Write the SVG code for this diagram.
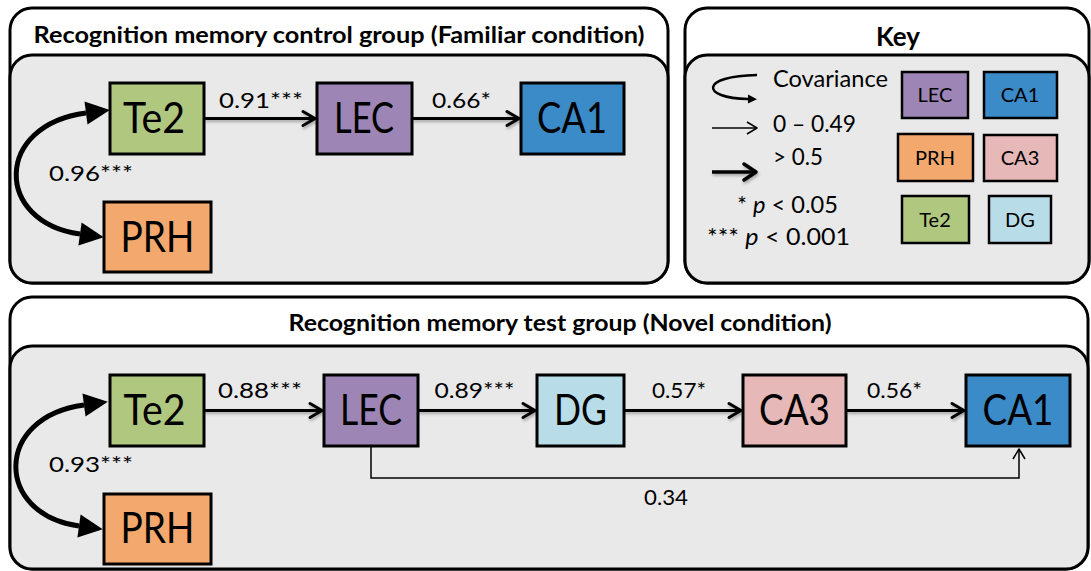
<svg xmlns="http://www.w3.org/2000/svg" width="1091" height="571" viewBox="0 0 1091 571">
  <style>
    text { font-family: Lato, "Liberation Sans", Arial, sans-serif; fill: #000; }
    .title { font-size: 22px; font-weight: bold; text-anchor: middle; }
    .outer { fill: #fff; stroke: #000; stroke-width: 3; }
    .inner { fill: #e9e9e9; stroke: #000; stroke-width: 3; }
    .node rect { stroke: #000; stroke-width: 3; }
    .node text { font-size: 42px; text-anchor: middle; }
    .knode rect { stroke: #000; stroke-width: 2.5; }
    .knode text { font-size: 20px; text-anchor: middle; }
    .lbl { font-size: 21px; }
    .klbl { font-size: 23px; }
    .te2 { fill: #b0c77f; }
    .lec { fill: #9d86b5; }
    .ca1 { fill: #3b8bc9; }
    .prh { fill: #f3a96e; }
    .ca3 { fill: #e6b8b7; }
    .dg  { fill: #b8dde8; }
    .path { fill: none; stroke: #000; stroke-width: 3; marker-end: url(#chev); }
    .thin { fill: none; stroke: #000; stroke-width: 1.5; marker-end: url(#chevThin); }
    .cov { fill: none; stroke: #000; stroke-width: 5; marker-start: url(#tri); marker-end: url(#tri); }
  </style>
  <defs>
    <marker id="chev" markerUnits="userSpaceOnUse" viewBox="-3 -3 18 20" markerWidth="18" markerHeight="20" refX="12" refY="7" orient="auto" overflow="visible">
      <path d="M0 0 L12 7 L0 14" fill="none" stroke="#000" stroke-width="3" stroke-linejoin="round" stroke-linecap="round"/>
    </marker>
    <marker id="chevBold" markerUnits="userSpaceOnUse" viewBox="-3 -3 18 22" markerWidth="18" markerHeight="22" refX="12" refY="8" orient="auto" overflow="visible">
      <path d="M0 0 L12 8 L0 16" fill="none" stroke="#000" stroke-width="3.5" stroke-linejoin="round" stroke-linecap="round"/>
    </marker>
    <marker id="chevThin" markerUnits="userSpaceOnUse" viewBox="-2 -2 14 16" markerWidth="14" markerHeight="16" refX="10" refY="6" orient="auto" overflow="visible">
      <path d="M0 0 L10 6 L0 12" fill="none" stroke="#000" stroke-width="1.5" stroke-linejoin="round"/>
    </marker>
    <marker id="tri" markerUnits="userSpaceOnUse" viewBox="0 0 24 23" markerWidth="24" markerHeight="23" refX="0" refY="11.5" orient="auto-start-reverse" overflow="visible">
      <path d="M0 0 L24 11.5 L0 23 Z" fill="#000"/>
    </marker>
    <marker id="triSmall" markerUnits="userSpaceOnUse" viewBox="0 0 9 9" markerWidth="9" markerHeight="9" refX="0" refY="4.5" orient="auto" overflow="visible">
      <path d="M0 0 L9 4.5 L0 9 Z" fill="#000"/>
    </marker>
    <!-- soft drop shadow under the path arrows; user-space region so flat lines still render -->
    <filter id="shadow" filterUnits="userSpaceOnUse" x="0" y="0" width="1091" height="571">
      <feDropShadow dx="1" dy="2" stdDeviation="1.6" flood-color="#000" flood-opacity="0.3"/>
    </filter>
  </defs>

  <!-- Panel frames -->
  <g id="panel-familiar">
    <rect class="outer" x="10" y="8" width="658" height="275" rx="22"/>
    <rect class="inner" x="10" y="55" width="658" height="228" rx="22"/>
    <text class="title" x="339" y="43" textLength="611" lengthAdjust="spacingAndGlyphs">Recognition memory control group (Familiar condition)</text>
  </g>
  <g id="panel-key">
    <rect class="outer" x="685" y="8" width="404" height="275" rx="22"/>
    <rect class="inner" x="685" y="55" width="404" height="228" rx="22"/>
    <text class="title" x="898" y="46" style="font-size:26px" textLength="44" lengthAdjust="spacingAndGlyphs">Key</text>
  </g>
  <g id="panel-novel">
    <rect class="outer" x="10" y="297" width="1078" height="272" rx="22"/>
    <rect class="inner" x="10" y="346" width="1078" height="223" rx="22"/>
    <text class="title" x="560" y="331" textLength="543" lengthAdjust="spacingAndGlyphs">Recognition memory test group (Novel condition)</text>
  </g>

  <!-- Connectors -->
  <g id="connectors">
    <g filter="url(#shadow)">
      <path class="path" d="M204 118.5 H315"/>
      <path class="path" d="M412 118.5 H519"/>
      <path class="path" d="M204 410.5 H322"/>
      <path class="path" d="M418 410.5 H535"/>
      <path class="path" d="M624 410.5 H741"/>
      <path class="path" d="M846 410.5 H964"/>
    </g>
    <path class="thin" d="M371 446 V478 H1019 V449"/>
    <path class="cov" d="M86 113 C-6 125, -6 222, 80 234"/>
    <path class="cov" d="M84 405 C-6 417, -6 514, 79 526"/>
    <text class="lbl" x="261" y="108" text-anchor="middle" textLength="84" lengthAdjust="spacingAndGlyphs">0.91***</text>
    <text class="lbl" x="461.5" y="108" text-anchor="middle" textLength="59" lengthAdjust="spacingAndGlyphs">0.66*</text>
    <text class="lbl" x="91" y="181" text-anchor="middle" textLength="84" lengthAdjust="spacingAndGlyphs">0.96***</text>
    <text class="lbl" x="260" y="398" text-anchor="middle" textLength="84" lengthAdjust="spacingAndGlyphs">0.88***</text>
    <text class="lbl" x="474.5" y="398" text-anchor="middle" textLength="80" lengthAdjust="spacingAndGlyphs">0.89***</text>
    <text class="lbl" x="679" y="398" text-anchor="middle" textLength="54" lengthAdjust="spacingAndGlyphs">0.57*</text>
    <text class="lbl" x="894.5" y="398" text-anchor="middle" textLength="55" lengthAdjust="spacingAndGlyphs">0.56*</text>
    <text class="lbl" x="91" y="472" text-anchor="middle" textLength="84" lengthAdjust="spacingAndGlyphs">0.93***</text>
    <text class="lbl" x="666" y="505" text-anchor="middle" textLength="44" lengthAdjust="spacingAndGlyphs">0.34</text>
  </g>

  <!-- Familiar condition nodes -->
  <g id="f-te2" class="node">
    <rect class="te2" x="110" y="83" width="94" height="71"/>
    <text x="154" y="133" textLength="62" lengthAdjust="spacingAndGlyphs">Te2</text>
  </g>
  <g id="f-lec" class="node">
    <rect class="lec" x="317" y="83" width="95" height="71"/>
    <text x="364" y="133" textLength="60" lengthAdjust="spacingAndGlyphs">LEC</text>
  </g>
  <g id="f-ca1" class="node">
    <rect class="ca1" x="521" y="83" width="103" height="71"/>
    <text x="572" y="133" textLength="70" lengthAdjust="spacingAndGlyphs">CA1</text>
  </g>
  <g id="f-prh" class="node">
    <rect class="prh" x="104" y="202" width="107" height="70"/>
    <text x="157.5" y="252" textLength="74" lengthAdjust="spacingAndGlyphs">PRH</text>
  </g>

  <!-- Novel condition nodes -->
  <g id="n-te2" class="node">
    <rect class="te2" x="110" y="375" width="94" height="71"/>
    <text x="154.5" y="425" textLength="62" lengthAdjust="spacingAndGlyphs">Te2</text>
  </g>
  <g id="n-lec" class="node">
    <rect class="lec" x="324" y="375" width="94" height="71"/>
    <text x="371" y="425" textLength="62" lengthAdjust="spacingAndGlyphs">LEC</text>
  </g>
  <g id="n-dg" class="node">
    <rect class="dg" x="537" y="375" width="87" height="71"/>
    <text x="580.5" y="425" textLength="53" lengthAdjust="spacingAndGlyphs">DG</text>
  </g>
  <g id="n-ca3" class="node">
    <rect class="ca3" x="743" y="375" width="103" height="71"/>
    <text x="794.5" y="425" textLength="71" lengthAdjust="spacingAndGlyphs">CA3</text>
  </g>
  <g id="n-ca1" class="node">
    <rect class="ca1" x="966" y="375" width="104" height="71"/>
    <text x="1018" y="425" textLength="71" lengthAdjust="spacingAndGlyphs">CA1</text>
  </g>
  <g id="n-prh" class="node">
    <rect class="prh" x="104" y="494" width="107" height="70"/>
    <text x="157.5" y="543" textLength="74" lengthAdjust="spacingAndGlyphs">PRH</text>
  </g>

  <!-- Key entries -->
  <g id="key-legend">
    <path d="M757 75 C700 76, 700 98, 748 99" fill="none" stroke="#000" stroke-width="2.5" marker-end="url(#triSmall)"/>
    <text class="klbl" x="773" y="87" textLength="115" lengthAdjust="spacingAndGlyphs">Covariance</text>
    <path d="M712 128 H757" class="thin"/>
    <text class="klbl" x="773" y="132" textLength="83" lengthAdjust="spacingAndGlyphs">0 – 0.49</text>
    <path d="M712 172 H756" fill="none" stroke="#000" stroke-width="3.5" marker-end="url(#chevBold)" filter="url(#shadow)"/>
    <text class="klbl" x="773" y="165" textLength="50" lengthAdjust="spacingAndGlyphs">&gt; 0.5</text>
    <text class="klbl" x="737" y="213" textLength="101" lengthAdjust="spacingAndGlyphs">* <tspan font-style="italic">p</tspan> &lt; 0.05</text>
    <text class="klbl" x="707" y="245" textLength="143" lengthAdjust="spacingAndGlyphs">*** <tspan font-style="italic">p</tspan> &lt; 0.001</text>
  </g>
  <g id="k-lec" class="knode">
    <rect class="lec" x="902" y="72" width="66" height="46"/>
    <text x="935" y="102">LEC</text>
  </g>
  <g id="k-ca1" class="knode">
    <rect class="ca1" x="984" y="72" width="73" height="46"/>
    <text x="1020" y="102">CA1</text>
  </g>
  <g id="k-prh" class="knode">
    <rect class="prh" x="898" y="134" width="75" height="47"/>
    <text x="935" y="165">PRH</text>
  </g>
  <g id="k-ca3" class="knode">
    <rect class="ca3" x="984" y="135" width="73" height="46"/>
    <text x="1020" y="165">CA3</text>
  </g>
  <g id="k-te2" class="knode">
    <rect class="te2" x="902" y="196" width="67" height="47"/>
    <text x="935" y="227">Te2</text>
  </g>
  <g id="k-dg" class="knode">
    <rect class="dg" x="989" y="196" width="62" height="47"/>
    <text x="1020" y="227">DG</text>
  </g>
</svg>
